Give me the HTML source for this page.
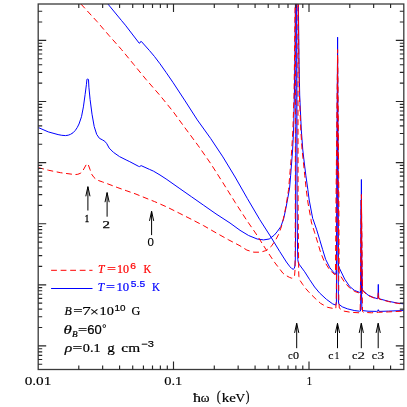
<!DOCTYPE html>
<html><head><meta charset="utf-8"><title>plot</title>
<style>html,body{margin:0;padding:0;background:#fff;}body{width:407px;height:407px;overflow:hidden;position:relative;font-family:"Liberation Serif",serif;}svg text{white-space:pre;}</style></head>
<body>
<svg width="407" height="407" viewBox="0 0 407 407" style="position:absolute;left:0;top:0;will-change:transform">
<rect x="0" y="0" width="407" height="407" fill="#fff"/>
<defs><clipPath id="cp"><rect x="38.2" y="4.0" width="365.6" height="365.5"/></clipPath></defs>
<g clip-path="url(#cp)">
<path d="M107.90,4.00 L121.40,20.40 L125.40,25.20 L133.70,36.00 L139.20,43.20 L139.70,43.20 L140.90,41.30 L141.40,41.50 L149.50,50.60 L154.40,56.40 L160.00,63.80 L166.00,72.30 L172.90,82.30 L185.10,100.90 L197.30,119.90 L210.60,138.40 L222.90,156.90 L235.10,177.00 L247.40,198.60 L259.70,219.50 L271.00,237.20 L279.60,251.30 L286.40,262.00 L290.00,266.80 L291.70,268.50 L293.20,269.30 L294.30,268.40 L294.90,266.00 L295.30,260.00 L295.50,240.00 L295.60,200.00 L295.90,100.00 L296.20,4.00 L296.80,4.00 L296.90,100.00 L297.10,200.00 L297.40,240.00 L297.80,259.70 L298.40,262.90 L299.50,264.80 L304.70,271.80 L309.70,279.70 L314.60,287.00 L319.50,292.90 L326.40,299.30 L332.70,303.90 L335.80,305.10 L336.40,303.00 L336.80,250.00 L337.50,60.00 L338.10,250.00 L338.40,301.00 L338.90,304.20 L342.20,306.80 L347.30,308.80 L354.20,310.50 L359.40,311.20 L360.50,311.00 L360.90,290.00 L361.20,200.00 L361.50,290.00 L361.90,309.50 L362.80,310.60 L368.00,311.20 L376.60,311.40 L377.70,311.20 L378.30,309.70 L378.90,311.20 L380.00,311.40 L388.60,311.10 L403.80,310.50" fill="none" stroke="#0000ff" stroke-width="1.0" stroke-linejoin="round"/>
<path d="M38.20,127.50 L48.30,131.90 L58.10,134.60 L61.80,135.30 L65.50,135.60 L68.20,135.20 L70.40,134.40 L73.00,132.80 L75.30,130.40 L77.20,127.60 L79.00,124.00 L81.50,116.70 L83.40,106.90 L85.10,94.60 L86.40,84.70 L86.90,79.60 L87.30,79.00 L88.10,79.00 L88.50,79.80 L88.90,87.20 L90.10,99.50 L92.00,114.20 L94.20,126.50 L96.70,134.40 L99.40,138.30 L102.30,139.80 L104.80,141.30 L106.80,143.70 L109.20,148.10 L113.40,152.30 L119.50,156.60 L126.90,160.30 L129.80,161.70 L138.70,166.40 L139.60,166.60 L141.10,165.60 L149.50,169.40 L153.40,171.10 L160.00,175.00 L166.90,179.50 L179.10,188.10 L191.40,196.70 L203.70,205.30 L216.00,213.90 L230.00,223.00 L240.00,230.30 L248.60,235.50 L257.20,239.00 L263.60,239.90 L269.20,239.00 L274.40,235.00 L277.00,231.90 L280.90,226.50 L283.70,218.50 L285.80,208.80 L287.80,198.00 L289.60,188.00 L290.60,175.80 L291.60,163.00 L292.60,150.00 L293.60,130.00 L294.40,95.00 L294.90,60.00 L295.40,4.00 L298.40,4.00 L299.00,60.00 L299.70,95.00 L301.30,130.00 L302.80,150.00 L304.30,163.00 L305.90,175.80 L307.80,189.30 L309.20,200.00 L312.70,218.50 L313.30,220.00 L316.70,229.80 L319.70,239.70 L322.60,249.50 L325.60,259.30 L329.90,267.80 L334.30,273.20 L335.90,274.20 L336.40,268.00 L336.80,200.00 L337.60,37.20 L338.10,200.00 L338.30,262.00 L338.60,265.80 L339.70,268.80 L344.70,279.10 L349.60,286.40 L354.50,290.40 L359.40,292.30 L360.50,292.50 L361.00,260.00 L361.40,179.50 L361.80,260.00 L362.30,289.50 L362.80,290.40 L368.00,295.10 L373.10,297.30 L377.40,298.70 L377.90,298.00 L378.30,284.40 L378.70,298.00 L380.00,299.00 L388.60,301.30 L397.20,303.00 L403.80,303.90" fill="none" stroke="#0000ff" stroke-width="1.0" stroke-linejoin="round"/>
<path d="M80.90,4.00 L96.90,21.40 L109.10,35.60 L121.40,49.40 L133.70,64.40 L146.00,79.40 L160.30,95.80 L172.90,111.30 L185.10,128.00 L198.30,145.80 L210.60,163.40 L222.90,182.70 L235.10,202.30 L246.20,219.50 L257.20,235.50 L265.80,249.20 L274.40,262.10 L283.00,273.30 L286.80,275.90 L289.50,277.40 L291.70,278.20 L293.30,277.90 L294.50,276.20 L295.00,270.00 L295.20,255.00 L295.30,200.00 L295.40,100.00 L295.50,4.00 L297.90,4.00 L298.00,100.00 L298.10,200.00 L298.50,250.00 L298.70,272.00 L298.90,276.50 L299.80,280.10 L302.80,284.60 L305.70,288.50 L308.70,291.90 L311.60,294.90 L315.10,298.30 L320.60,303.40 L327.50,307.30 L334.40,308.70 L335.80,308.50 L336.30,300.00 L336.90,200.00 L337.60,49.60 L338.30,200.00 L338.80,300.00 L339.30,308.00 L339.90,308.70 L343.90,311.10 L350.80,312.30 L359.40,312.80 L360.10,312.50 L360.60,290.00 L361.40,194.50 L362.20,290.00 L362.50,311.50 L363.60,312.30 L371.40,312.80 L378.30,312.30 L388.60,311.90 L403.80,311.10" fill="none" stroke="#ff0000" stroke-width="1.0" stroke-linejoin="round" stroke-dasharray="5.9 3.6"/>
<path d="M38.20,167.60 L48.30,170.20 L60.60,172.70 L68.00,173.70 L74.90,174.60 L77.80,174.30 L80.80,173.10 L83.20,170.10 L86.20,164.70 L87.20,163.60 L88.10,164.30 L90.10,169.70 L91.60,174.10 L94.00,177.50 L97.00,180.00 L102.40,181.90 L107.30,183.70 L117.10,187.40 L126.90,190.90 L136.00,194.10 L142.30,196.70 L154.60,201.60 L166.90,207.00 L179.10,213.10 L191.40,219.30 L203.70,225.70 L216.00,232.80 L228.30,239.70 L240.00,245.80 L246.90,250.10 L253.80,252.20 L260.60,252.20 L265.80,250.60 L271.00,246.70 L275.30,240.60 L278.60,234.40 L281.30,226.90 L283.20,219.50 L285.20,210.00 L286.80,201.00 L288.60,189.30 L289.70,175.80 L290.80,163.00 L291.70,150.00 L292.90,130.00 L294.00,95.00 L294.50,60.00 L295.10,4.00 L298.30,4.00 L298.80,60.00 L299.40,95.00 L300.80,130.00 L302.10,150.00 L303.50,163.00 L304.80,175.80 L306.20,189.30 L308.00,203.00 L311.00,219.50 L311.30,222.00 L314.70,232.80 L317.70,242.60 L320.60,252.40 L323.90,260.50 L329.30,269.30 L332.80,273.00 L334.90,274.60 L335.50,272.00 L336.00,200.00 L337.60,55.00 L338.90,200.00 L339.10,272.00 L339.90,274.90 L344.70,282.50 L349.60,287.90 L354.50,291.40 L359.50,293.10 L360.30,293.00 L360.80,270.00 L361.40,200.00 L362.10,270.00 L362.60,291.00 L363.40,291.50 L368.00,295.50 L373.10,297.70 L377.40,299.00 L377.90,298.50 L378.30,292.50 L378.70,298.50 L380.00,299.30 L388.60,301.60 L397.20,303.30 L403.80,304.20" fill="none" stroke="#ff0000" stroke-width="1.0" stroke-linejoin="round" stroke-dasharray="5.9 3.6"/>
</g>
<rect x="38.2" y="4.0" width="365.6" height="365.5" fill="none" stroke="#3a3a3a" stroke-width="1.3"/>
<path d="M78.79,369.50L78.79,365.50M78.79,4.00L78.79,8.00M102.65,369.50L102.65,365.50M102.65,4.00L102.65,8.00M119.58,369.50L119.58,365.50M119.58,4.00L119.58,8.00M132.71,369.50L132.71,365.50M132.71,4.00L132.71,8.00M143.44,369.50L143.44,365.50M143.44,4.00L143.44,8.00M152.51,369.50L152.51,365.50M152.51,4.00L152.51,8.00M160.37,369.50L160.37,365.50M160.37,4.00L160.37,8.00M167.30,369.50L167.30,365.50M167.30,4.00L167.30,8.00M173.50,369.50L173.50,361.50M173.50,4.00L173.50,12.00M214.29,369.50L214.29,365.50M214.29,4.00L214.29,8.00M238.15,369.50L238.15,365.50M238.15,4.00L238.15,8.00M255.08,369.50L255.08,365.50M255.08,4.00L255.08,8.00M268.21,369.50L268.21,365.50M268.21,4.00L268.21,8.00M278.94,369.50L278.94,365.50M278.94,4.00L278.94,8.00M288.01,369.50L288.01,365.50M288.01,4.00L288.01,8.00M295.87,369.50L295.87,365.50M295.87,4.00L295.87,8.00M302.80,369.50L302.80,365.50M302.80,4.00L302.80,8.00M309.00,369.50L309.00,361.50M309.00,4.00L309.00,12.00M349.79,369.50L349.79,365.50M349.79,4.00L349.79,8.00M373.65,369.50L373.65,365.50M373.65,4.00L373.65,8.00M390.58,369.50L390.58,365.50M390.58,4.00L390.58,8.00M38.20,40.40L46.20,40.40M403.80,40.40L395.80,40.40M38.20,22.01L42.20,22.01M403.80,22.01L399.80,22.01M38.20,11.25L42.20,11.25M403.80,11.25L399.80,11.25M38.20,101.50L46.20,101.50M403.80,101.50L395.80,101.50M38.20,83.11L42.20,83.11M403.80,83.11L399.80,83.11M38.20,72.35L42.20,72.35M403.80,72.35L399.80,72.35M38.20,64.71L42.20,64.71M403.80,64.71L399.80,64.71M38.20,58.79L42.20,58.79M403.80,58.79L399.80,58.79M38.20,53.95L42.20,53.95M403.80,53.95L399.80,53.95M38.20,49.86L42.20,49.86M403.80,49.86L399.80,49.86M38.20,46.32L42.20,46.32M403.80,46.32L399.80,46.32M38.20,43.20L42.20,43.20M403.80,43.20L399.80,43.20M38.20,162.60L46.20,162.60M403.80,162.60L395.80,162.60M38.20,144.21L42.20,144.21M403.80,144.21L399.80,144.21M38.20,133.45L42.20,133.45M403.80,133.45L399.80,133.45M38.20,125.81L42.20,125.81M403.80,125.81L399.80,125.81M38.20,119.89L42.20,119.89M403.80,119.89L399.80,119.89M38.20,115.05L42.20,115.05M403.80,115.05L399.80,115.05M38.20,110.96L42.20,110.96M403.80,110.96L399.80,110.96M38.20,107.42L42.20,107.42M403.80,107.42L399.80,107.42M38.20,104.30L42.20,104.30M403.80,104.30L399.80,104.30M38.20,223.70L46.20,223.70M403.80,223.70L395.80,223.70M38.20,205.31L42.20,205.31M403.80,205.31L399.80,205.31M38.20,194.55L42.20,194.55M403.80,194.55L399.80,194.55M38.20,186.91L42.20,186.91M403.80,186.91L399.80,186.91M38.20,180.99L42.20,180.99M403.80,180.99L399.80,180.99M38.20,176.15L42.20,176.15M403.80,176.15L399.80,176.15M38.20,172.06L42.20,172.06M403.80,172.06L399.80,172.06M38.20,168.52L42.20,168.52M403.80,168.52L399.80,168.52M38.20,165.40L42.20,165.40M403.80,165.40L399.80,165.40M38.20,284.80L46.20,284.80M403.80,284.80L395.80,284.80M38.20,266.41L42.20,266.41M403.80,266.41L399.80,266.41M38.20,255.65L42.20,255.65M403.80,255.65L399.80,255.65M38.20,248.01L42.20,248.01M403.80,248.01L399.80,248.01M38.20,242.09L42.20,242.09M403.80,242.09L399.80,242.09M38.20,237.25L42.20,237.25M403.80,237.25L399.80,237.25M38.20,233.16L42.20,233.16M403.80,233.16L399.80,233.16M38.20,229.62L42.20,229.62M403.80,229.62L399.80,229.62M38.20,226.50L42.20,226.50M403.80,226.50L399.80,226.50M38.20,345.90L46.20,345.90M403.80,345.90L395.80,345.90M38.20,327.51L42.20,327.51M403.80,327.51L399.80,327.51M38.20,316.75L42.20,316.75M403.80,316.75L399.80,316.75M38.20,309.11L42.20,309.11M403.80,309.11L399.80,309.11M38.20,303.19L42.20,303.19M403.80,303.19L399.80,303.19M38.20,298.35L42.20,298.35M403.80,298.35L399.80,298.35M38.20,294.26L42.20,294.26M403.80,294.26L399.80,294.26M38.20,290.72L42.20,290.72M403.80,290.72L399.80,290.72M38.20,287.60L42.20,287.60M403.80,287.60L399.80,287.60M38.20,364.29L42.20,364.29M403.80,364.29L399.80,364.29M38.20,359.45L42.20,359.45M403.80,359.45L399.80,359.45M38.20,355.36L42.20,355.36M403.80,355.36L399.80,355.36M38.20,351.82L42.20,351.82M403.80,351.82L399.80,351.82M38.20,348.70L42.20,348.70M403.80,348.70L399.80,348.70" stroke="#262626" stroke-width="1.15" fill="none"/>
<path d="M87.90,210.50L87.90,186.70M85.80,196.30L87.90,186.70L90.00,196.30M107.10,216.70L107.10,192.60M105.00,202.20L107.10,192.60L109.20,202.20M151.60,235.10L151.60,211.30M149.50,220.90L151.60,211.30L153.70,220.90M296.70,348.20L296.70,323.30M294.60,332.90L296.70,323.30L298.80,332.90M337.50,348.20L337.50,323.30M335.40,332.90L337.50,323.30L339.60,332.90M361.30,348.20L361.30,323.30M359.20,332.90L361.30,323.30L363.40,332.90M378.20,348.20L378.20,323.30M376.10,332.90L378.20,323.30L380.30,332.90" stroke="#000" stroke-width="1.0" fill="none" stroke-linejoin="miter"/>
<path d="M51.1,270.3L92.5,270.3" stroke="#ff0000" stroke-width="1.0" stroke-dasharray="5.8 3.75" fill="none"/>
<path d="M51.1,288.5L92.5,288.5" stroke="#0000ff" stroke-width="1.0" fill="none"/>
<g>
<text x="24.67" y="385.10" font-family="Liberation Serif" font-size="12.6" fill="#000" stroke="#000" stroke-width="0.15" textLength="26.65" lengthAdjust="spacingAndGlyphs">0.01</text>
<text x="164.19" y="385.10" font-family="Liberation Serif" font-size="12.6" fill="#000" stroke="#000" stroke-width="0.15" textLength="18.07" lengthAdjust="spacingAndGlyphs">0.1</text>
<text x="306.79" y="385.00" font-family="Liberation Serif" font-size="12.6" fill="#000" stroke="#000" stroke-width="0.15" textLength="5.35" lengthAdjust="spacingAndGlyphs">1</text>
<text x="193.14" y="401.50" font-family="Liberation Serif" font-size="12.8" fill="#000" stroke="#000" stroke-width="0.2" textLength="8.02" lengthAdjust="spacingAndGlyphs">ħ</text>
<text x="200.77" y="401.50" font-family="Liberation Serif" font-size="12.8" fill="#000" stroke="#000" stroke-width="0.2" textLength="8.74" lengthAdjust="spacingAndGlyphs">ω</text>
<text x="216.87" y="400.90" font-family="Liberation Serif" font-size="13.8" fill="#000" stroke="#000" stroke-width="0.2" textLength="3.92" lengthAdjust="spacingAndGlyphs">(</text>
<text x="221.70" y="401.50" font-family="Liberation Serif" font-size="12.8" fill="#000" stroke="#000" stroke-width="0.2" textLength="7.50" lengthAdjust="spacingAndGlyphs">k</text>
<text x="229.21" y="401.50" font-family="Liberation Serif" font-size="12.8" fill="#000" stroke="#000" stroke-width="0.2" textLength="6.60" lengthAdjust="spacingAndGlyphs">e</text>
<text x="235.57" y="401.50" font-family="Liberation Serif" font-size="12.8" fill="#000" stroke="#000" stroke-width="0.2" textLength="9.59" lengthAdjust="spacingAndGlyphs">V</text>
<text x="245.67" y="400.90" font-family="Liberation Serif" font-size="13.8" fill="#000" stroke="#000" stroke-width="0.2" textLength="3.71" lengthAdjust="spacingAndGlyphs">)</text>
<text x="84.86" y="221.90" font-family="Liberation Serif" font-size="10.8" fill="#000" stroke="#000" stroke-width="0.4" textLength="4.37" lengthAdjust="spacingAndGlyphs">1</text>
<text x="102.62" y="228.00" font-family="Liberation Serif" font-size="10.8" fill="#000" stroke="#000" stroke-width="0.25" textLength="7.50" lengthAdjust="spacingAndGlyphs">2</text>
<text x="147.54" y="246.30" font-family="Liberation Sans" font-size="10.4" fill="#000" stroke="#000" stroke-width="0.15" textLength="6.37" lengthAdjust="spacingAndGlyphs">0</text>
<text x="287.92" y="358.50" font-family="Liberation Serif" font-size="9.4" fill="#000" stroke="#000" stroke-width="0.1" textLength="4.79" lengthAdjust="spacingAndGlyphs">c</text>
<text x="292.98" y="358.50" font-family="Liberation Serif" font-size="9.4" fill="#000" stroke="#000" stroke-width="0.1" textLength="6.05" lengthAdjust="spacingAndGlyphs">0</text>
<text x="328.39" y="358.50" font-family="Liberation Serif" font-size="9.4" fill="#000" stroke="#000" stroke-width="0.1" textLength="5.26" lengthAdjust="spacingAndGlyphs">c</text>
<text x="334.46" y="358.50" font-family="Liberation Serif" font-size="9.4" fill="#000" stroke="#000" stroke-width="0.1" textLength="4.93" lengthAdjust="spacingAndGlyphs">1</text>
<text x="352.07" y="358.50" font-family="Liberation Serif" font-size="9.4" fill="#000" stroke="#000" stroke-width="0.1" textLength="5.49" lengthAdjust="spacingAndGlyphs">c</text>
<text x="357.52" y="358.50" font-family="Liberation Serif" font-size="9.4" fill="#000" stroke="#000" stroke-width="0.1" textLength="7.50" lengthAdjust="spacingAndGlyphs">2</text>
<text x="371.88" y="358.50" font-family="Liberation Serif" font-size="9.4" fill="#000" stroke="#000" stroke-width="0.1" textLength="5.37" lengthAdjust="spacingAndGlyphs">c</text>
<text x="377.37" y="358.50" font-family="Liberation Serif" font-size="9.4" fill="#000" stroke="#000" stroke-width="0.1" textLength="6.99" lengthAdjust="spacingAndGlyphs">3</text>
<text x="98.04" y="272.70" font-family="Liberation Serif" font-size="13.4" fill="#ff0000" font-style="italic" stroke="#ff0000" stroke-width="0.22" textLength="6.47" lengthAdjust="spacingAndGlyphs">T</text>
<text x="107.00" y="272.90" font-family="Liberation Serif" font-size="13.4" fill="#ff0000" stroke="#ff0000" stroke-width="0.22" textLength="8.98" lengthAdjust="spacingAndGlyphs">=</text>
<text x="117.08" y="272.70" font-family="Liberation Serif" font-size="13.4" fill="#ff0000" stroke="#ff0000" stroke-width="0.22" textLength="12.05" lengthAdjust="spacingAndGlyphs">10</text>
<text x="130.18" y="268.90" font-family="Liberation Sans" font-size="9.0" fill="#ff0000" stroke="#ff0000" stroke-width="0.2" textLength="5.74" lengthAdjust="spacingAndGlyphs">6</text>
<text x="143.58" y="272.70" font-family="Liberation Serif" font-size="13.4" fill="#ff0000" stroke="#ff0000" stroke-width="0.22" textLength="7.80" lengthAdjust="spacingAndGlyphs">K</text>
<text x="97.86" y="290.80" font-family="Liberation Serif" font-size="13.4" fill="#0000ff" font-style="italic" stroke="#0000ff" stroke-width="0.22" textLength="6.37" lengthAdjust="spacingAndGlyphs">T</text>
<text x="105.90" y="291.00" font-family="Liberation Serif" font-size="13.4" fill="#0000ff" stroke="#0000ff" stroke-width="0.22" textLength="8.98" lengthAdjust="spacingAndGlyphs">=</text>
<text x="116.42" y="290.80" font-family="Liberation Serif" font-size="13.4" fill="#0000ff" stroke="#0000ff" stroke-width="0.22" textLength="12.73" lengthAdjust="spacingAndGlyphs">10</text>
<text x="130.89" y="287.00" font-family="Liberation Sans" font-size="9.0" fill="#0000ff" stroke="#0000ff" stroke-width="0.2" textLength="14.22" lengthAdjust="spacingAndGlyphs">5.5</text>
<text x="152.07" y="290.80" font-family="Liberation Serif" font-size="13.4" fill="#0000ff" stroke="#0000ff" stroke-width="0.22" textLength="8.01" lengthAdjust="spacingAndGlyphs">K</text>
<text x="64.48" y="315.00" font-family="Liberation Serif" font-size="13.4" fill="#000" font-style="italic" stroke="#000" stroke-width="0.22" textLength="7.27" lengthAdjust="spacingAndGlyphs">B</text>
<text x="73.37" y="315.20" font-family="Liberation Serif" font-size="13.4" fill="#000" stroke="#000" stroke-width="0.22" textLength="9.34" lengthAdjust="spacingAndGlyphs">=</text>
<text x="82.29" y="315.00" font-family="Liberation Serif" font-size="13.4" fill="#000" stroke="#000" stroke-width="0.22" textLength="8.52" lengthAdjust="spacingAndGlyphs">7</text>
<text x="90.06" y="315.80" font-family="Liberation Serif" font-size="13.4" fill="#000" stroke="#000" stroke-width="0.22" textLength="8.77" lengthAdjust="spacingAndGlyphs">×</text>
<text x="99.48" y="315.00" font-family="Liberation Serif" font-size="13.4" fill="#000" stroke="#000" stroke-width="0.22" textLength="14.32" lengthAdjust="spacingAndGlyphs">10</text>
<text x="114.56" y="311.10" font-family="Liberation Sans" font-size="9.0" fill="#000" stroke="#000" stroke-width="0.2" textLength="11.01" lengthAdjust="spacingAndGlyphs">10</text>
<text x="131.61" y="315.00" font-family="Liberation Serif" font-size="13.4" fill="#000" stroke="#000" stroke-width="0.22" textLength="8.78" lengthAdjust="spacingAndGlyphs">G</text>
<text x="63.55" y="333.50" font-family="Liberation Serif" font-size="12.2" fill="#000" font-style="italic" stroke="#000" stroke-width="0.22" textLength="8.30" lengthAdjust="spacingAndGlyphs">θ</text>
<text x="72.01" y="337.00" font-family="Liberation Serif" font-size="7.8" fill="#000" font-style="italic" stroke="#000" stroke-width="0.2" textLength="5.58" lengthAdjust="spacingAndGlyphs">B</text>
<text x="78.08" y="333.70" font-family="Liberation Serif" font-size="13.4" fill="#000" stroke="#000" stroke-width="0.22" textLength="9.22" lengthAdjust="spacingAndGlyphs">=</text>
<text x="87.35" y="333.50" font-family="Liberation Sans" font-size="12.2" fill="#000" stroke="#000" stroke-width="0.2" textLength="14.43" lengthAdjust="spacingAndGlyphs">60</text>
<text x="102.11" y="331.90" font-family="Liberation Sans" font-size="10.0" fill="#000" stroke="#000" stroke-width="0.1" textLength="4.57" lengthAdjust="spacingAndGlyphs">°</text>
<text x="64.79" y="352.00" font-family="Liberation Serif" font-size="13.4" fill="#000" font-style="italic" stroke="#000" stroke-width="0.22" textLength="7.48" lengthAdjust="spacingAndGlyphs">ρ</text>
<text x="72.63" y="352.20" font-family="Liberation Serif" font-size="13.4" fill="#000" stroke="#000" stroke-width="0.22" textLength="9.82" lengthAdjust="spacingAndGlyphs">=</text>
<text x="82.80" y="352.00" font-family="Liberation Serif" font-size="13.4" fill="#000" stroke="#000" stroke-width="0.22" textLength="17.86" lengthAdjust="spacingAndGlyphs">0.1</text>
<text x="107.30" y="352.00" font-family="Liberation Serif" font-size="13.4" fill="#000" stroke="#000" stroke-width="0.22" textLength="7.50" lengthAdjust="spacingAndGlyphs">g</text>
<text x="121.36" y="352.00" font-family="Liberation Serif" font-size="13.4" fill="#000" stroke="#000" stroke-width="0.22" textLength="18.71" lengthAdjust="spacingAndGlyphs">cm</text>
<text x="141.25" y="347.10" font-family="Liberation Sans" font-size="9.0" fill="#000" stroke="#000" stroke-width="0.2" textLength="12.60" lengthAdjust="spacingAndGlyphs">−3</text>
</g>
</svg>
</body></html>
